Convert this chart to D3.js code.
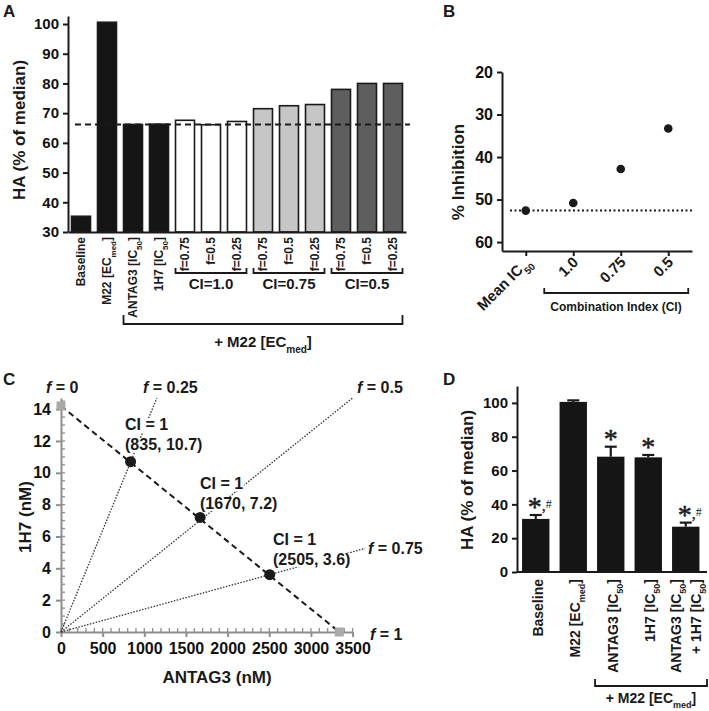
<!DOCTYPE html>
<html><head><meta charset="utf-8">
<script src="https://cdn.jsdelivr.net/npm/d3@7"></script>
<style>body{margin:0;background:#fff}</style>
</head><body>
<svg id="fig" width="709" height="711" xmlns="http://www.w3.org/2000/svg"></svg>
<script>
// ---------------- DATA ----------------
// Panel A
const catsA = ["Baseline","M22 [EC_{med}]","ANTAG3 [IC_{50}]","1H7 [IC_{50}]","f=0.75","f=0.5","f=0.25","f=0.75","f=0.5","f=0.25","f=0.75","f=0.5","f=0.25"];
const valuesA = [35.3, 100.6, 66.2, 66.3, 67.6, 66.1, 67.2, 71.5, 72.5, 72.9, 78.0, 80.0, 80.0];
const groupA = ["ctrl","ctrl","single","single","ci1","ci1","ci1","ci075","ci075","ci075","ci05","ci05","ci05"];
const ticksA = [30,40,50,60,70,80,90,100];
const refA = 66.2;
const bracketsA = [["CI=1.0",4,6],["CI=0.75",7,9],["CI=0.5",10,12]];
const bigBracketA = ["+ M22 [EC_{med}]",2,12];

// Panel B
const catsB = ["Mean IC_{50}","1.0","0.75","0.5"];
const valuesB = [52.6, 50.8, 42.8, 33.3];
const ticksB = [20,30,40,50,60];
const refB = 52.6;
const bracketB = ["Combination Index (CI)",1,3];

// Panel C
const ticksCx = [0,500,1000,1500,2000,2500,3000,3500];
const ticksCy = [0,2,4,6,8,10,12,14];
const ic50C = [[0,14.2],[3340,0]];           // single-agent IC50 (squares)
const pointsC = [[835,10.7],[1670,7.2],[2505,3.6]];
const labelsC = [["CI = 1","(835, 10.7)"],["CI = 1","(1670, 7.2)"],["CI = 1","(2505, 3.6)"]];
const rayEndsC = [[1150,14.7],[3500,14.7],[3650,5.25]];  // dotted f-lines end points
const fLabelsC = ["f = 0","f = 0.25","f = 0.5","f = 0.75","f = 1"];

// Panel D
const catsD = [["Baseline"],["M22 [EC_{med}]"],["ANTAG3 [IC_{50}]"],["1H7 [IC_{50}]"],["ANTAG3 [IC_{50}]","+ 1H7 [IC_{50}]"]];
const valuesD = [31.4, 100.6, 68.2, 67.8, 26.8];
const errorsD = [2.3, 0.9, 5.9, 1.4, 2.4];
const starsD = ["*,#","","*","*","*,#"];
const ticksD = [0,20,40,60,80,100];
const bracketD = ["+ M22 [EC_{med}]",2,4];

// ---------------- HELPERS ----------------
const INK = "#1a1a1a";
const FONT = '"Liberation Sans", Arial, sans-serif';
const svg = d3.select("#fig").attr("font-family",FONT).attr("font-weight","bold").attr("fill",INK);
svg.append("rect").attr("width",709).attr("height",711).attr("fill","#fff");

function rich(sel, str, subSize){
  const parts = str.split(/_\{([^}]*)\}/);
  parts.forEach((p,i)=>{
    if(!p) return;
    if(i%2===1){
      sel.append("tspan").attr("baseline-shift","sub").attr("font-size",subSize).text(p);
    } else {
      const m = p.match(/^f( = .*)$/);
      if(m){
        sel.append("tspan").attr("font-style","italic").text("f");
        sel.append("tspan").text(m[1]);
      } else sel.append("tspan").text(p);
    }
  });
  return sel;
}
function styleAxis(g, size, color, width){
  g.attr("font-family",FONT);
  g.select(".domain").attr("stroke",color).attr("stroke-width",width);
  g.selectAll(".tick line").attr("stroke",color).attr("stroke-width",width);
  g.selectAll(".tick text").attr("font-size",size).attr("font-weight","bold").attr("fill","#111");
}
function bracket(g, x1, x2, y, h){
  g.append("path").attr("d",`M${x1},${y-h}V${y}H${x2}V${y-h}`)
   .attr("fill","none").attr("stroke",INK).attr("stroke-width",1.8);
}
function panelLabel(t,x,y){
  svg.append("text").attr("x",x).attr("y",y).attr("font-size",17).text(t);
}

// ---------------- PANEL A ----------------
{
  const g = svg.append("g");
  const x = d3.scaleBand().domain(d3.range(catsA.length)).range([68,406]).paddingInner(0.27).paddingOuter(0.135);
  const y = d3.scaleLinear().domain([30,102.7]).range([232,16]);
  const fill = {ctrl:"#151515",single:"#151515",ci1:"#ffffff",ci075:"#c6c6c6",ci05:"#5e5e5e"};

  g.selectAll("rect.bar").data(valuesA).join("rect").attr("class","bar")
    .attr("x",(d,i)=>x(i)).attr("width",x.bandwidth())
    .attr("y",d=>y(d)).attr("height",d=>y(30)-y(d))
    .attr("fill",(d,i)=>fill[groupA[i]]).attr("stroke",INK).attr("stroke-width",1.6);

  const ay = g.append("g").attr("transform","translate(68,0)")
    .call(d3.axisLeft(y).tickValues(ticksA).tickSize(5).tickSizeOuter(0).tickPadding(4));
  styleAxis(ay,15,INK,2);
  const ax = g.append("g").attr("transform","translate(0,232)")
    .call(d3.axisBottom(x).tickSize(0).tickSizeOuter(0).tickFormat(""));
  styleAxis(ax,12,INK,2);

  g.append("line").attr("x1",75).attr("x2",410).attr("y1",y(refA)).attr("y2",y(refA))
    .attr("stroke",INK).attr("stroke-width",2).attr("stroke-dasharray","6,4");

  catsA.forEach((c,i)=>{
    const t = g.append("text").attr("text-anchor","end").attr("font-size",12).attr("dy","0.35em")
      .attr("transform",`translate(${x(i)+x.bandwidth()/2},237) rotate(-90)`);
    rich(t,c,8);
  });

  bracketsA.forEach(([lab,a,b])=>{
    bracket(g, x(a), x(b)+x.bandwidth(), 273, 5);
    g.append("text").attr("text-anchor","middle").attr("font-size",15)
      .attr("x",(x(a)+x(b)+x.bandwidth())/2).attr("y",289).text(lab);
  });
  {
    const [lab,a,b] = bigBracketA;
    bracket(g, x(a), x(b)+x.bandwidth(), 324, 9);
    const t = g.append("text").attr("text-anchor","middle").attr("font-size",15)
      .attr("x",(x(a)+x(b)+x.bandwidth())/2).attr("y",347);
    rich(t,lab,10);
  }
  g.append("text").attr("text-anchor","middle").attr("font-size",17).attr("dy","0.35em")
    .attr("transform","translate(19,130) rotate(-90)").text("HA (% of median)");
  panelLabel("A",3,17);
}

// ---------------- PANEL B ----------------
{
  const g = svg.append("g");
  const x = d3.scalePoint().domain(catsB).range([502,692]).padding(0.5);
  const y = d3.scaleLinear().domain([20,62.1]).range([72,251]);

  const ay = g.append("g").attr("transform","translate(502,0)")
    .call(d3.axisLeft(y).tickValues(ticksB).tickSize(5).tickSizeOuter(0).tickPadding(4));
  styleAxis(ay,16,INK,2);
  const ax = g.append("g").attr("transform","translate(0,251)")
    .call(d3.axisBottom(x).tickSize(5).tickSizeOuter(0).tickFormat(""));
  styleAxis(ax,12,INK,2);

  g.append("line").attr("x1",510).attr("x2",692).attr("y1",y(refB)).attr("y2",y(refB))
    .attr("stroke",INK).attr("stroke-width",2).attr("stroke-dasharray","2,2.5");

  g.selectAll("circle").data(valuesB).join("circle")
    .attr("cx",(d,i)=>x(catsB[i])).attr("cy",d=>y(d)).attr("r",4.3).attr("fill",INK);

  catsB.forEach(c=>{
    const t = g.append("text").attr("text-anchor","end").attr("font-size",15)
      .attr("transform",`translate(${x(c)+6},263) rotate(-45)`);
    rich(t,c,10);
  });
  {
    const [lab,a,b] = bracketB;
    bracket(g, x(catsB[a])-29, x(catsB[b])+20, 293, 5);
    g.append("text").attr("text-anchor","middle").attr("font-size",12)
      .attr("x",616).attr("y",311).text(lab);
  }
  g.append("text").attr("text-anchor","middle").attr("font-size",17).attr("dy","0.35em")
    .attr("transform","translate(458,172) rotate(-90)").text("% Inhibition");
  panelLabel("B",443,17);
}

// ---------------- PANEL C ----------------
{
  const g = svg.append("g");
  const GREY = "#8e8e8e";
  const x = d3.scaleLinear().domain([0,3500]).range([61,352.6]);
  const y = d3.scaleLinear().domain([0,14.7]).range([632,398]);

  d3.range(0,3501,100).forEach(v=>{
    g.append("line").attr("x1",x(v)).attr("x2",x(v)).attr("y1",632).attr("y2",628)
      .attr("stroke",GREY).attr("stroke-width",1.3);
  });
  d3.range(0,14.51,0.5).forEach(v=>{
    g.append("line").attr("x1",61).attr("x2",65).attr("y1",y(v)).attr("y2",y(v))
      .attr("stroke",GREY).attr("stroke-width",1.3);
  });
  const ay = g.append("g").attr("transform","translate(61,0)")
    .call(d3.axisLeft(y).tickValues(ticksCy).tickSize(5).tickSizeOuter(0).tickPadding(5));
  styleAxis(ay,16,GREY,2);
  const ax = g.append("g").attr("transform","translate(0,632)")
    .call(d3.axisBottom(x).tickValues(ticksCx).tickFormat(d3.format("d")).tickSize(5).tickSizeOuter(0).tickPadding(6));
  styleAxis(ax,16,GREY,2);

  rayEndsC.forEach(e=>{
    g.append("line").attr("x1",x(0)).attr("y1",y(0)).attr("x2",x(e[0])).attr("y2",y(e[1]))
      .attr("stroke","#333").attr("stroke-width",1.3).attr("stroke-dasharray","1.5,1.5");
  });
  g.append("line").attr("x1",x(ic50C[0][0])).attr("y1",y(ic50C[0][1]))
    .attr("x2",x(ic50C[1][0])).attr("y2",y(ic50C[1][1]))
    .attr("stroke",INK).attr("stroke-width",2).attr("stroke-dasharray","6,4");

  function bgText(str,tx,ty,size,anchor){
    const gg = g.append("g");
    const r = gg.append("rect").attr("fill","#fff");
    const t = gg.append("text").attr("x",tx).attr("y",ty).attr("font-size",size).attr("text-anchor",anchor||"start");
    rich(t,str,10);
    const b = t.node().getBBox();
    r.attr("x",b.x-1).attr("y",b.y+2).attr("width",b.width+2).attr("height",b.height-3);
  }
  const labPos = [[125,430],[200,489],[273,545]];
  labelsC.forEach((l,i)=>{
    bgText(l[0],labPos[i][0],labPos[i][1],16);
    bgText(l[1],labPos[i][0],labPos[i][1]+20,16);
  });
  const fPos = [[46,393],[143,393],[357,393],[368,554],[370,640]];
  fLabelsC.forEach((l,i)=>bgText(l,fPos[i][0],fPos[i][1],16));

  g.selectAll("rect.sq").data(ic50C).join("rect").attr("class","sq")
    .attr("x",d=>x(d[0])-4.5).attr("y",d=>y(d[1])-4.5).attr("width",9).attr("height",9).attr("fill","#a9a9a9");
  g.selectAll("circle").data(pointsC).join("circle")
    .attr("cx",d=>x(d[0])).attr("cy",d=>y(d[1])).attr("r",5.5).attr("fill",INK);

  g.append("text").attr("text-anchor","middle").attr("font-size",17).attr("x",217).attr("y",683).text("ANTAG3 (nM)");
  g.append("text").attr("text-anchor","middle").attr("font-size",17).attr("dy","0.35em")
    .attr("transform","translate(25,517) rotate(-90)").text("1H7 (nM)");
  panelLabel("C",3,385);
}

// ---------------- PANEL D ----------------
{
  const g = svg.append("g");
  const x = d3.scaleBand().domain(d3.range(valuesD.length)).range([517,704.5]).paddingInner(0.27).paddingOuter(0.135);
  const y = d3.scaleLinear().domain([0,110]).range([572,386]);

  g.selectAll("rect.bar").data(valuesD).join("rect").attr("class","bar")
    .attr("x",(d,i)=>x(i)).attr("width",x.bandwidth())
    .attr("y",d=>y(d)).attr("height",d=>y(0)-y(d)).attr("fill","#151515");
  valuesD.forEach((v,i)=>{
    const cx = x(i)+x.bandwidth()/2, top = y(v+errorsD[i]);
    g.append("line").attr("x1",cx).attr("x2",cx).attr("y1",y(v)).attr("y2",top).attr("stroke",INK).attr("stroke-width",2.2);
    g.append("line").attr("x1",cx-6).attr("x2",cx+6).attr("y1",top).attr("y2",top).attr("stroke",INK).attr("stroke-width",2.2);
    if(starsD[i]){
      const parts = starsD[i].split(",");
      const t = g.append("text").attr("x",parts.length>1?cx+4:cx).attr("y",top+1).attr("text-anchor","middle")
        .attr("font-family",'"Liberation Serif","Times New Roman",serif').attr("font-weight","normal")
        .attr("stroke",INK).attr("stroke-width",0.5);
      t.append("tspan").attr("font-size",28).text(parts[0]);
      if(parts.length>1){
        t.append("tspan").attr("font-size",16).attr("dy",-5).attr("stroke-width",0.3).text(",");
        t.append("tspan").attr("font-size",12).attr("dy",-3).attr("stroke-width",0).text(parts[1]);
      }
    }
  });

  const ay = g.append("g").attr("transform","translate(517,0)")
    .call(d3.axisLeft(y).tickValues(ticksD).tickSize(5).tickSizeOuter(0).tickPadding(4));
  styleAxis(ay,15,INK,2);
  g.append("line").attr("x1",517).attr("x2",707).attr("y1",572).attr("y2",572).attr("stroke",INK).attr("stroke-width",2);

  catsD.forEach((lines,i)=>{
    const cx = x(i)+x.bandwidth()/2;
    const offs = lines.length===1 ? [2] : [-9.5,10.5];
    lines.forEach((l,j)=>{
      const t = g.append("text").attr("text-anchor","end").attr("font-size",14).attr("dy","0.35em")
        .attr("transform",`translate(${cx+offs[j]},579) rotate(-90)`);
      rich(t,l,9);
    });
  });
  {
    const [lab,a,b] = bracketD;
    bracket(g, x(a)-2, 707, 686, 7);
    const t = g.append("text").attr("text-anchor","middle").attr("font-size",14).attr("x",651).attr("y",703);
    rich(t,lab,9);
  }
  g.append("text").attr("text-anchor","middle").attr("font-size",17).attr("dy","0.35em")
    .attr("transform","translate(467,480) rotate(-90)").text("HA (% of median)");
  panelLabel("D",443,385);
}
</script>
</body></html>
